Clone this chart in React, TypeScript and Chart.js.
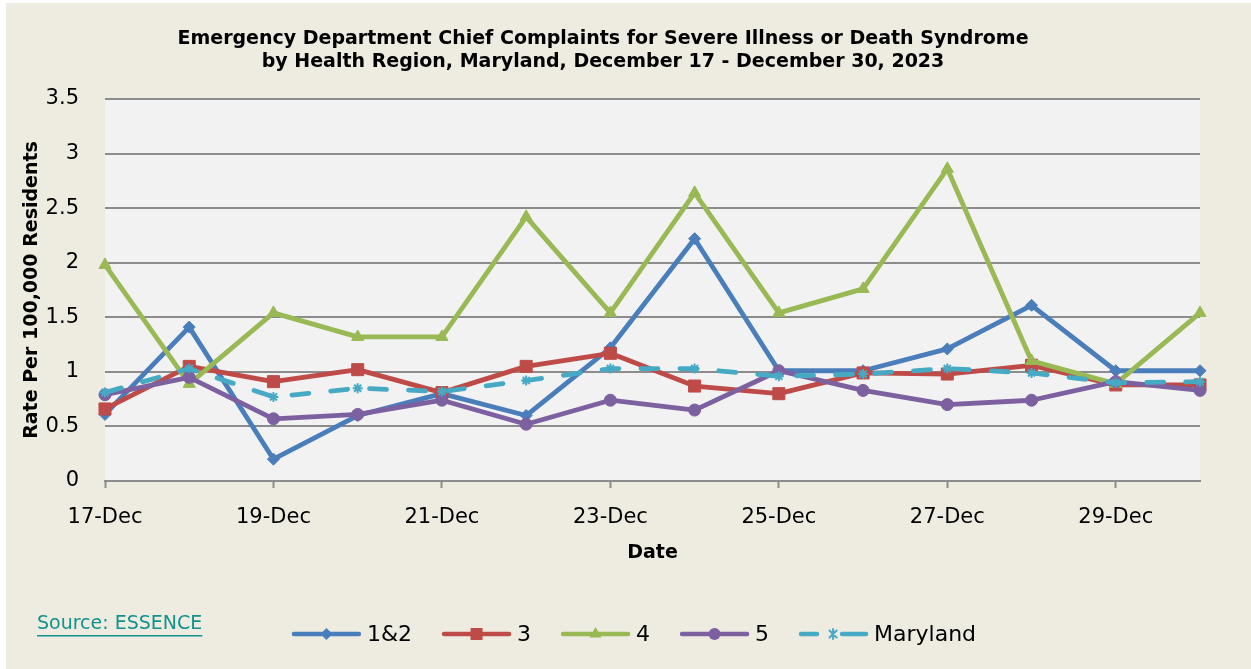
import React, { useEffect, useRef } from "react";
import { Chart, registerables } from "chart.js";

Chart.register(...registerables);

const categories = ["17-Dec", "18-Dec", "19-Dec", "20-Dec", "21-Dec", "22-Dec", "23-Dec", "24-Dec", "25-Dec", "26-Dec", "27-Dec", "28-Dec", "29-Dec", "30-Dec"];
const region12 = [0.61, 1.41, 0.2, 0.6, 0.8, 0.6, 1.22, 2.22, 1.01, 1.01, 1.21, 1.61, 1.01, 1.01];
const region3 = [0.66, 1.05, 0.91, 1.02, 0.81, 1.05, 1.17, 0.87, 0.8, 0.99, 0.98, 1.06, 0.88, 0.88];
const region4 = [1.98, 0.89, 1.54, 1.32, 1.32, 2.42, 1.54, 2.64, 1.54, 1.76, 2.86, 1.1, 0.89, 1.54];
const region5 = [0.79, 0.95, 0.57, 0.61, 0.74, 0.52, 0.74, 0.65, 1.01, 0.83, 0.7, 0.74, 0.91, 0.83];
const maryland = [0.81, 1.03, 0.77, 0.85, 0.82, 0.92, 1.03, 1.03, 0.96, 0.98, 1.03, 0.99, 0.9, 0.91];
const yTicks = [0, 0.5, 1, 1.5, 2, 2.5, 3, 3.5];

const titleLines = [
  "Emergency Department Chief Complaints for Severe Illness or Death Syndrome",
  "by Health Region, Maryland, December 17 - December 30, 2023",
];

const GRID = "#8c8c8c";
const FONT = '"DejaVu Sans", sans-serif';

function drawMarker(ctx: CanvasRenderingContext2D, style: string, x: number, y: number, r: number, color: string) {
  ctx.save();
  ctx.fillStyle = color;
  ctx.strokeStyle = color;
  ctx.lineWidth = style === "star" ? 2 : 1;
  ctx.setLineDash([]);
  ctx.beginPath();
  if (style === "rectRot") {
    ctx.moveTo(x - r, y);
    ctx.lineTo(x, y - r);
    ctx.lineTo(x + r, y);
    ctx.lineTo(x, y + r);
    ctx.closePath();
    ctx.fill();
  } else if (style === "rect") {
    const s = Math.SQRT1_2 * r;
    ctx.rect(x - s, y - s, 2 * s, 2 * s);
    ctx.fill();
  } else if (style === "triangle") {
    const a = (2 * Math.PI) / 3;
    ctx.moveTo(x, y - r);
    ctx.lineTo(x + Math.sin(a) * r, y - Math.cos(a) * r);
    ctx.lineTo(x + Math.sin(2 * a) * r, y - Math.cos(2 * a) * r);
    ctx.closePath();
    ctx.fill();
  } else if (style === "circle") {
    ctx.arc(x, y, r, 0, Math.PI * 2);
    ctx.fill();
  } else {
    ctx.moveTo(x, y - r);
    ctx.lineTo(x, y + r);
    const d = r * Math.SQRT1_2;
    ctx.moveTo(x - d, y - d);
    ctx.lineTo(x + d, y + d);
    ctx.moveTo(x - d, y + d);
    ctx.lineTo(x + d, y - d);
    ctx.stroke();
  }
  ctx.restore();
}

const plotBgPlugin = {
  id: "plotBg",
  beforeDraw(chart: any) {
    const { ctx, chartArea } = chart;
    ctx.save();
    ctx.fillStyle = "#f2f2f2";
    ctx.fillRect(chartArea.left, chartArea.top, chartArea.right - chartArea.left, chartArea.bottom - chartArea.top);
    ctx.restore();
  },
};

const legendPlugin = {
  id: "customLegend",
  afterDraw(chart: any) {
    const ctx: CanvasRenderingContext2D = chart.ctx;
    ctx.save();
    ctx.font = `22px ${FONT}`;
    const lineLen = 69;
    const gapText = 6;
    const gapItem = 30;
    const items = chart.data.datasets;
    let total = 0;
    items.forEach((d: any, i: number) => {
      total += lineLen + gapText + ctx.measureText(d.label).width + (i < items.length - 1 ? gapItem : 0);
    });
    let x = 628 - total / 2;
    const y = 631;
    items.forEach((d: any) => {
      ctx.strokeStyle = d.borderColor;
      ctx.lineWidth = 4.5;
      ctx.lineCap = "round";
      ctx.setLineDash([]);
      ctx.beginPath();
      if (d.borderDash) {
        ctx.moveTo(x + 2, y);
        ctx.lineTo(x + 18, y);
        ctx.moveTo(x + 43, y);
        ctx.lineTo(x + lineLen - 2, y);
        ctx.stroke();
        drawMarker(ctx, d.pointStyle, x + 34, y, d.pointRadius, d.borderColor);
      } else {
        ctx.moveTo(x + 2, y);
        ctx.lineTo(x + lineLen - 2, y);
        ctx.stroke();
        drawMarker(ctx, d.pointStyle, x + lineLen / 2, y, d.pointRadius, d.borderColor);
      }
      ctx.fillStyle = "#000";
      ctx.textBaseline = "middle";
      ctx.textAlign = "left";
      ctx.fillText(d.label, x + lineLen + gapText, y + 1);
      x += lineLen + gapText + ctx.measureText(d.label).width + gapItem;
    });
    // source
    ctx.font = `19px ${FONT}`;
    ctx.fillStyle = "#13918c";
    ctx.textBaseline = "middle";
    const src = "Source: ESSENCE";
    ctx.fillText(src, 31, 621);
    const w = ctx.measureText(src).width;
    ctx.fillRect(31, 632, w, 1.5);
    ctx.restore();
  },
};

export default function App() {
  const ref = useRef<HTMLCanvasElement | null>(null);
  useEffect(() => {
    if (!ref.current) return;
    const mk = (label: string, data: number[], color: string, pointStyle: string, pointRadius: number, order: number, dash?: number[]) => ({
      label,
      data,
      borderColor: color,
      backgroundColor: color,
      pointBackgroundColor: color,
      pointBorderColor: color,
      pointBorderWidth: pointStyle === "star" ? 2 : 1,
      pointStyle,
      pointRadius,
      borderWidth: 4.8,
      borderCapStyle: "round",
      borderJoinStyle: "round",
      borderDash: dash,
      tension: 0,
      clip: false,
      order,
    });
    const chart = new Chart(ref.current, {
      type: "line",
      data: {
        labels: categories,
        datasets: [
          mk("1&2", region12, "#4a7ebb", "rectRot", 6, 4),
          mk("3", region3, "#be4b48", "rect", 8.5, 3),
          mk("4", region4, "#98b954", "triangle", 7, 2),
          mk("5", region5, "#7d60a0", "circle", 6, 1),
          mk("Maryland", maryland, "#46aac5", "star", 5, 0, [17, 22]),
        ] as any,
      },
      options: {
        animation: false,
        responsive: false,
        events: [],
        layout: { padding: { left: 0, right: 51, top: 0, bottom: 100 } },
        plugins: {
          legend: { display: false },
          tooltip: { enabled: false },
          title: {
            display: true,
            text: titleLines,
            color: "#000",
            font: { family: FONT, weight: "bold", size: 19, lineHeight: 1.21 },
            padding: { top: 25, bottom: 25 },
          },
        },
        scales: {
          x: {
            type: "category",
            offset: false,
            afterFit: (s: any) => {
              s.height = 88;
            },
            grid: {
              drawOnChartArea: false,
              drawTicks: true,
              tickLength: 7,
              tickWidth: 2,
              tickColor: (c: any) => (c.index % 2 === 0 ? GRID : "rgba(0,0,0,0)"),
            },
            border: { display: true, color: GRID, width: 2 },
            ticks: {
              autoSkip: false,
              maxRotation: 0,
              padding: 17,
              color: "#000",
              font: { family: FONT, size: 21 },
              callback: (_v: any, i: number) => (i % 2 === 0 ? categories[i] : ""),
            },
            title: {
              display: true,
              text: "Date",
              color: "#000",
              font: { family: FONT, weight: "bold", size: 19 },
              padding: { top: 0, bottom: 4.6 },
            },
          },
          y: {
            min: 0,
            max: 3.5,
            afterFit: (s: any) => {
              s.width = 99;
            },
            afterBuildTicks: (s: any) => {
              s.ticks = yTicks.map((v) => ({ value: v }));
            },
            grid: { color: GRID, lineWidth: 2, drawTicks: false },
            border: { display: false },
            ticks: {
              padding: 26,
              color: "#000",
              font: { family: FONT, size: 21 },
              callback: (v: any) => String(v),
            },
            title: {
              display: true,
              text: "Rate Per 100,000 Residents",
              color: "#000",
              font: { family: FONT, weight: "bold", size: 19 },
              padding: { top: 14.6, bottom: 0 },
            },
          },
        },
      } as any,
      plugins: [plotBgPlugin, legendPlugin],
    });
    return () => chart.destroy();
  }, []);
  return (
    <div style={{ position: "absolute", left: 6, top: 3, width: 1245, height: 666, background: "#eeece1" }}>
      <canvas ref={ref} width={1245} height={666} style={{ display: "block", width: 1245, height: 666 }} />
    </div>
  );
}
